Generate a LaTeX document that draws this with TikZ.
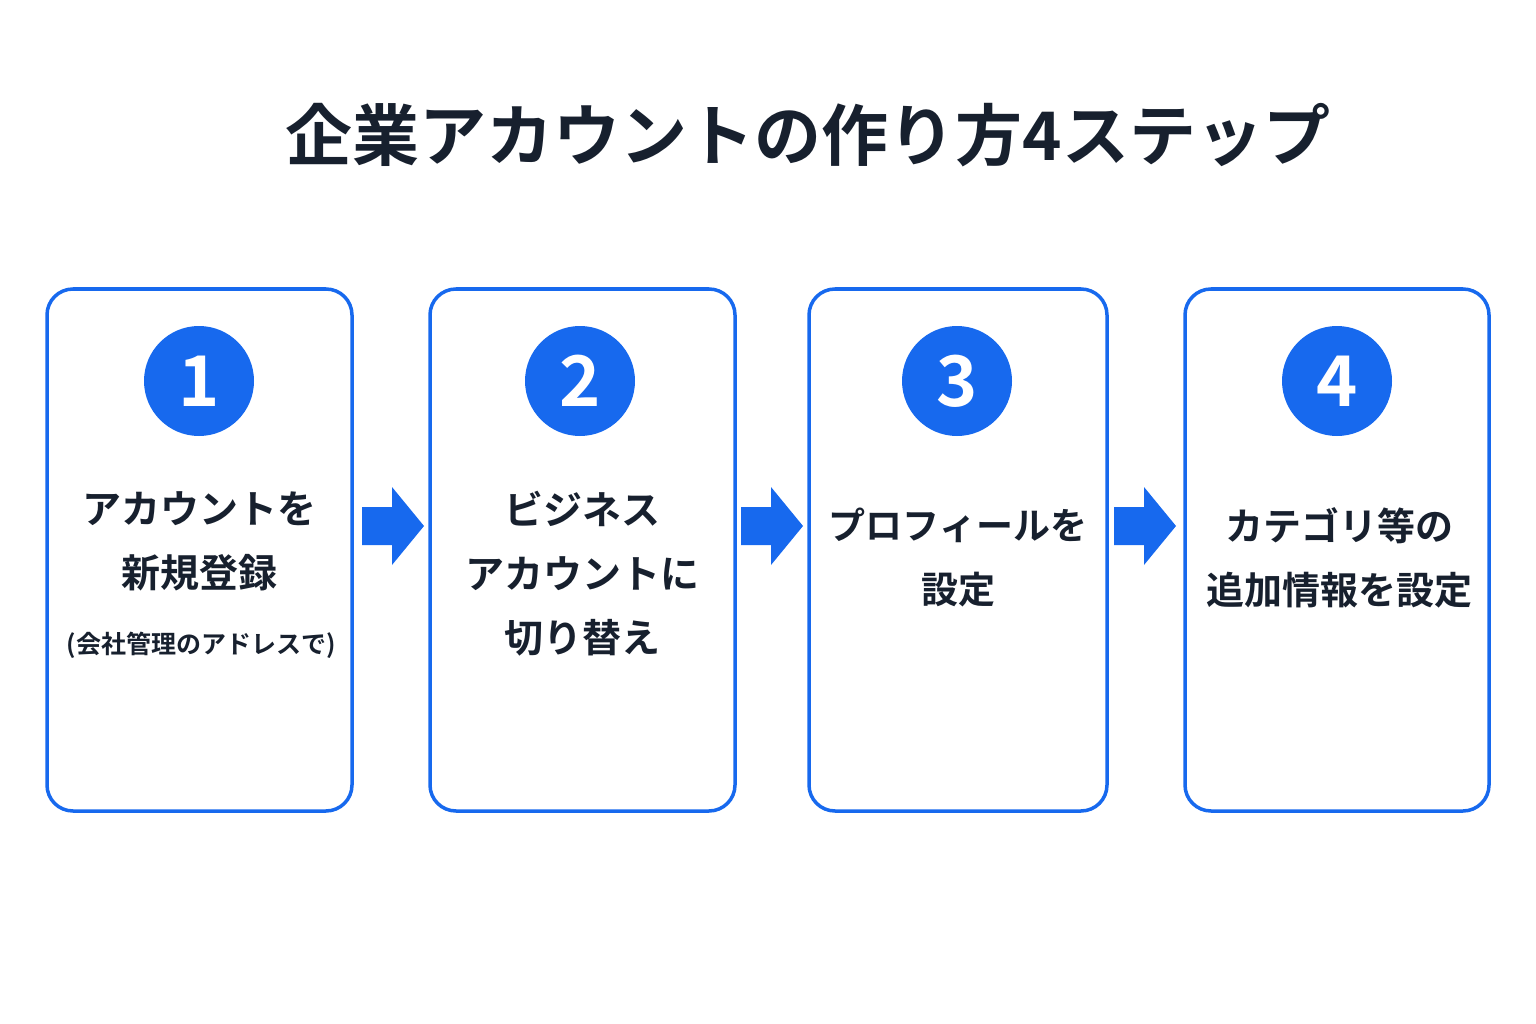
\documentclass[tikz,border=0pt]{standalone}
\usepackage{fontspec}
\newfontfamily\cjk{Noto Sans CJK JP}[BoldFont={Noto Sans CJK JP Bold}]
\definecolor{blu}{HTML}{1769EE}
\definecolor{ink}{HTML}{17202E}
\begin{document}
\begin{tikzpicture}[x=1pt,y=-1pt,
 box/.style={draw=blu,line width=3.5pt,rounded corners=26pt},
 num/.style={circle,fill=blu,minimum size=110pt,inner sep=0pt,text=white,font=\cjk\bfseries\fontsize{70}{70}\selectfont},
 lab/.style={text=ink,font=\cjk\bfseries\fontsize{39}{64}\selectfont,align=center},
 arr/.style={fill=blu}]
\useasboundingbox (0,0) rectangle (1536,1024);
\node[text=ink,font=\cjk\bfseries\fontsize{67}{67}\selectfont] (title) at (808,135) {企業アカウントの作り方4ステップ};
\draw[box] (47,289) rectangle (352,811);
\draw[box] (430,289) rectangle (735,811);
\draw[box] (809,289) rectangle (1107,811);
\draw[box] (1185,289) rectangle (1489,811);
\node[num] (n1) at (199,381) {1};
\node[num] (n2) at (580,381) {2};
\node[num] (n3) at (957,381) {3};
\node[num] (n4) at (1337,381) {4};
\node[lab,anchor=north] (t1) at (199,488) {アカウントを\\新規登録};
\node[text=ink,font=\cjk\bfseries\fontsize{25}{30}\selectfont] (s1) at (201,645) {(会社管理のアドレスで)};
\node[lab,anchor=north] (t2) at (582,488) {ビジネス\\アカウントに\\切り替え};
\node[lab,anchor=north,font=\cjk\bfseries\fontsize{37}{64}\selectfont] (t3) at (958,504) {プロフィールを\\設定};
\node[lab,anchor=north,font=\cjk\bfseries\fontsize{38}{64}\selectfont] (t4) at (1339,504) {カテゴリ等の\\追加情報を設定};
\foreach \x [count=\i] in {362,741,1114}{
 \fill[arr] (\x,507) -- (\x+30,507) -- (\x+30,487) -- (\x+62,526) -- (\x+30,565) -- (\x+30,545) -- (\x,545) -- cycle;
}
\end{tikzpicture}
\end{document}
